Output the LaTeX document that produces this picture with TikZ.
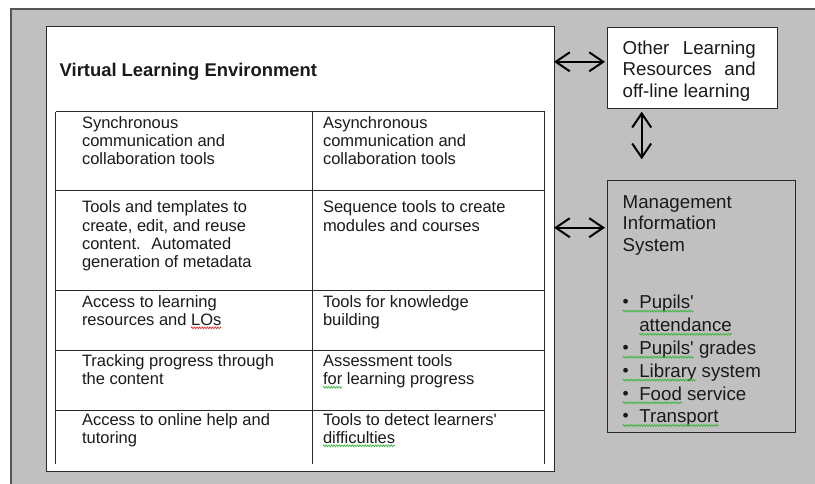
\documentclass[tikz,border=0pt]{standalone}
\usepackage{fontspec}
\setmainfont{Liberation Sans}[Ligatures=TeXOff]
\usetikzlibrary{arrows.meta,decorations.pathmorphing}
\definecolor{bgc}{HTML}{C0C0C0}
\definecolor{edgec}{HTML}{555555}
\definecolor{linec}{HTML}{2A2A2A}
\definecolor{textc}{HTML}{1A1A1A}
\definecolor{sqgreen}{HTML}{3CB43C}
\definecolor{sqred}{HTML}{E03030}
\newcommand\bul{\makebox[16.6pt][l]{\raisebox{1pt}{\fontsize{17.5}{17.5}\selectfont •}}}
\newcommand\tlines[5]{\foreach \tlineX [count=\ti from 0] in {#5}{\node[#1] (#2-\ti) at (#3,{#4+\ti*18.3}) {\tlineX};}}
\begin{document}
\begin{tikzpicture}[x=1pt,y=-1pt,
  txt/.style={anchor=base west, inner sep=0pt, outer sep=0pt, text=textc, font=\fontsize{16.5}{18.3}\selectfont},
  rtxt/.style={anchor=base west, inner sep=0pt, outer sep=0pt, text=textc, font=\fontsize{18.7}{21.5}\selectfont},
  box/.style={anchor=north west, inner sep=0pt, outer sep=0pt, line width=1pt, draw=linec},
  tbl/.style={draw=linec, line width=1pt},
  sq/.style={draw=sqgreen, line width=0.7pt, decorate, decoration={zigzag, segment length=2.6pt, amplitude=0.9pt}},
  sqr/.style={sq, draw=sqred},
  dbl/.style={line width=2pt, arrows={Straight Barb[length=14pt,width=19pt]-Straight Barb[length=14pt,width=19pt]}}]
\useasboundingbox (0,0) rectangle (815,484);
% background panel
\node[anchor=north west, inner sep=0pt, outer sep=0pt, draw=edgec, fill=bgc, line width=1.2pt,
      minimum width=830pt, minimum height=500pt] (outer) at (11,9) {};
% VLE box
\node[box, fill=white, minimum width=508pt, minimum height=444.5pt] (vle) at (46,27) {};
\node[anchor=base west, inner sep=0pt, text=textc, font=\bfseries\fontsize{18.4}{22}\selectfont] (title) at (59.5,76.5) {Virtual Learning Environment};
% table
\foreach \yy in {111.7,190.7,290.7,350.7,410} \draw[tbl] (55.7,\yy) -- (544.5,\yy);
\foreach \xx in {55.7,312.3,544.5} \draw[tbl] (\xx,111.7) -- (\xx,464.3);
\tlines{txt}{a1}{82}{128.3}{Synchronous, communication and, collaboration tools}
\tlines{txt}{b1}{323}{128.3}{Asynchronous, communication and, collaboration tools}
\tlines{txt}{a2}{82}{213}{Tools and templates to, {create, edit, and reuse}, content.~ Automated, generation of metadata}
\tlines{txt}{b2}{323}{213}{Sequence tools to create, modules and courses}
\node[txt] (a3-0) at (82,307) {Access to learning};
\node[txt] (a3-1) at (82,325.3) {resources and};
\node[txt, anchor=base west] (los) at ([xshift=4.6pt]a3-1.base east) {LOs};
\tlines{txt}{b3}{323}{307}{Tools for knowledge, building}
\tlines{txt}{a4}{82}{366.5}{Tracking progress through, the content}
\node[txt] (b4-0) at (323,366.5) {Assessment tools};
\node[txt] (for) at (323,384.8) {for};
\node[txt] (b4-1) at ([xshift=4.6pt]for.base east) {learning progress};
\tlines{txt}{a5}{82}{425}{Access to online help and, tutoring}
\node[txt] (b5-0) at (323,425) {Tools to detect learners'};
\node[txt] (b5-1) at (323,443.3) {difficulties};
\draw[sqr] ([yshift=-2.5pt]los.base west) -- ([yshift=-2.5pt]los.base east);
\draw[sq] ([yshift=-2.5pt]for.base west) -- ([yshift=-2.5pt]for.base east);
\draw[sq] ([yshift=-2.5pt]b5-1.base west) -- ([yshift=-2.5pt]b5-1.base east);
% other learning resources
\node[box, fill=white, minimum width=170pt, minimum height=81pt] (other) at (607.7,27.3) {};
\node[rtxt] (o-0) at (622.7,54.3) {\makebox[133pt][s]{Other Learning}};
\node[rtxt] (o-1) at (622.7,75.8) {\makebox[133pt][s]{Resources and}};
\node[rtxt] (o-2) at (622.7,97.3) {off-line learning};
% MIS
\node[box, fill=bgc, minimum width=187.3pt, minimum height=251pt] (mis) at (607.7,181) {};
\node[rtxt] (m-0) at (622.7,208.3) {Management};
\node[rtxt] (m-1) at (622.7,230) {Information};
\node[rtxt] (m-2) at (622.7,251.7) {System};
\node[rtxt] (l-0) at (622.7,308.3) {\bul Pupils'};
\node[rtxt] (l-1) at (639.3,331.5) {attendance};
\node[rtxt] (l-2) at (622.7,354.4) {\bul Pupils'};
\node[rtxt] (l-2b) at ([xshift=5.2pt]l-2.base east) {grades};
\node[rtxt] (l-3) at (622.7,377.3) {\bul Library};
\node[rtxt] (l-3b) at ([xshift=5.2pt]l-3.base east) {system};
\node[rtxt] (l-4) at (622.7,400) {\bul Food};
\node[rtxt] (l-4b) at ([xshift=5.2pt]l-4.base east) {service};
\node[rtxt] (l-5) at (622.7,422.7) {\bul Transport};
\foreach \n in {l-0,l-1,l-2,l-3,l-4,l-5}
  \draw[sq] ([yshift=-2.8pt]\n.base west) -- ([yshift=-2.8pt]\n.base east);
% arrows
\coordinate (o1) at ([yshift=6pt]other.west);
\coordinate (m1) at ([yshift=-46.7pt]mis.north west);
\coordinate (v1) at ([xshift=34pt,yshift=-3.4pt]other.south west);
\draw[dbl, shorten >=2.7pt] (vle.east |- o1) -- (o1);
\draw[dbl, shorten >=2.7pt] (vle.east |- m1) -- (m1);
\draw[dbl, shorten >=21.7pt] (v1) -- (v1 |- mis.north);
\end{tikzpicture}
\end{document}
